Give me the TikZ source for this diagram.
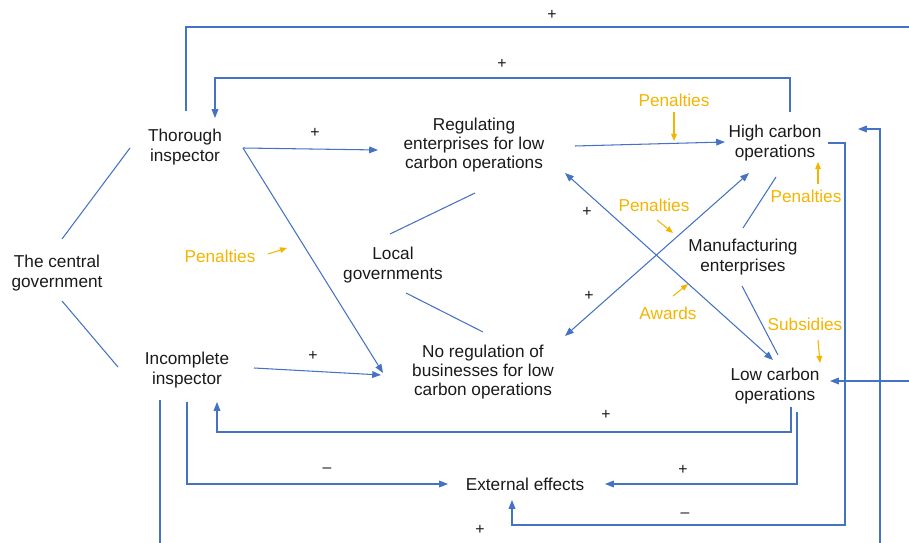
\documentclass[tikz,border=0pt]{standalone}
\usepackage{fontspec}
\setmainfont{Liberation Sans}
\usetikzlibrary{arrows.meta,calc}
\definecolor{linkblue}{HTML}{4472C4}
\definecolor{noteorange}{HTML}{F5B400}
\definecolor{txt}{HTML}{1A1A1A}
\begin{document}
\begin{tikzpicture}[
    x=0.02cm, y=-0.02cm,
    every node/.style={font=\fontsize{9.8}{10.9}\selectfont, text=txt, align=center, inner sep=0pt},
    note/.style={text=noteorange},
    sign/.style={font=\fontsize{9}{10}\selectfont},
    link/.style={draw=linkblue, line width=0.6pt},
    arr/.style={link, -{Triangle[length=5pt,width=3.8pt]}},
    both/.style={link, {Triangle[length=5pt,width=3.8pt]}-{Triangle[length=5pt,width=3.8pt]}},
    nudge/.style={draw=noteorange, line width=0.6pt, -{Triangle[length=4pt,width=3.2pt]}},
  ]
    \useasboundingbox (0,0) rectangle (909,543);

    % actors and states
    \node (cg)   at (57,273)  {The central\\government};
    \node (thor) at (185,147) {Thorough\\inspector};
    \node (inc)  at (187,370) {Incomplete\\inspector};
    \node (reg)  at (474,145) {Regulating\\enterprises for low\\carbon operations};
    \node (nreg) at (483,372) {No regulation of\\businesses for low\\carbon operations};
    \node (loc)  at (393,265) {Local\\governments};
    \node (high) at (775,143) {High carbon\\operations};
    \node (manu) at (743,257) {Manufacturing\\enterprises};
    \node (low)  at (775,386) {Low carbon\\operations};
    \node (ext)  at (525,484) {External effects};

    % incentives
    \node[note] (pen1) at (674,100) {Penalties};
    \node[note] (pen2) at (654,205) {Penalties};
    \node[note] (pen3) at (806,196) {Penalties};
    \node[note] (pen4) at (220,256) {Penalties};
    \node[note] (awd)  at (668,313) {Awards};
    \node[note] (sub)  at (805,324) {Subsidies};

    % loose ends at the border
    \coordinate (topR) at (909,27);
    \coordinate (botL) at (160,543);
    \coordinate (rin1) at (880,543);
    \coordinate (rin2) at (909,381);

    % plain links
    \draw[link] ($(cg)+(5,-34)$) -- ($(thor)+(-55,1)$);
    \draw[link] ($(cg)+(5,28)$) -- ($(inc)+(-69,-3)$);
    \draw[link] ($(loc)+(-3,-31)$) -- ($(reg)+(1,48)$);
    \draw[link] ($(loc)+(13,28)$) -- ($(nreg)+(0,-40)$);
    \draw[link] ($(manu)+(0,-29)$) -- ($(high)+(1,34)$);
    \draw[link] ($(manu)+(-1,29)$) -- ($(low)+(3,-31)$);
    \draw[link] ($(thor)+(1,-36)$) |- (topR);
    \draw[link] ($(inc)+(-27,30)$) -- (botL);

    % arrows
    \draw[arr] ($(thor)+(58,1)$) -- ($(reg)+(-96,5)$);
    \draw[arr] ($(thor)+(58,1)$) -- ($(nreg)+(-100,1)$);
    \draw[arr] ($(inc)+(67,-2)$) -- ($(nreg)+(-102,3)$);
    \draw[arr] ($(reg)+(101,1)$) -- ($(high)+(-50,-1)$);
    \draw[arr] ($(high)+(15,-31)$) -- ++(0,-34) -| ($(thor)+(30,-29)$);
    \draw[arr] ($(high)+(53,0)$) -- ++(17,0) |- ($(ext)+(-13,41)$) -- ($(ext)+(-13,16)$);
    \draw[arr] (rin1) |- ($(high)+(83,-14)$);
    \draw[arr] (rin2) -- ($(low)+(55,-5)$);
    \draw[arr] ($(low)+(16,21)$) -- ++(0,25) -| ($(inc)+(30,32)$);
    \draw[arr] ($(low)+(22,26)$) |- ($(ext)+(80,0)$);
    \draw[arr] ($(inc)+(0,32)$) |- ($(ext)+(-77,0)$);
    \draw[both] ($(reg)+(91,28)$) -- ($(low)+(-2,-26)$);
    \draw[both] ($(nreg)+(82,-36)$) -- ($(high)+(-26,30)$);

    \draw[nudge] ($(pen1)+(0,12)$) -- ($(pen1)+(0,41)$);
    \draw[nudge] ($(pen2)+(3,15)$) -- ($(pen2)+(19,28)$);
    \draw[nudge] ($(pen3)+(12,-12)$) -- ($(pen3)+(12,-34)$);
    \draw[nudge] ($(pen4)+(48,-2)$) -- ($(pen4)+(67,-8)$);
    \draw[nudge] ($(awd)+(5,-17)$) -- ($(awd)+(20,-29)$);
    \draw[nudge] ($(sub)+(13,16)$) -- ($(sub)+(15,39)$);

    % polarities
    \foreach \name/\px/\py in {p1/552/15, p2/502/64, p3/315/133, p4/313/356, p5/587/212,
                                p6/589/296, p7/606/415, p8/683/470, p9/480/530}
      \node[sign] (\name) at (\px,\py) {+};
    \node[sign] (m1) at (685,515) {--};
    \node[sign] (m2) at (327,470) {--};
\end{tikzpicture}
\end{document}
